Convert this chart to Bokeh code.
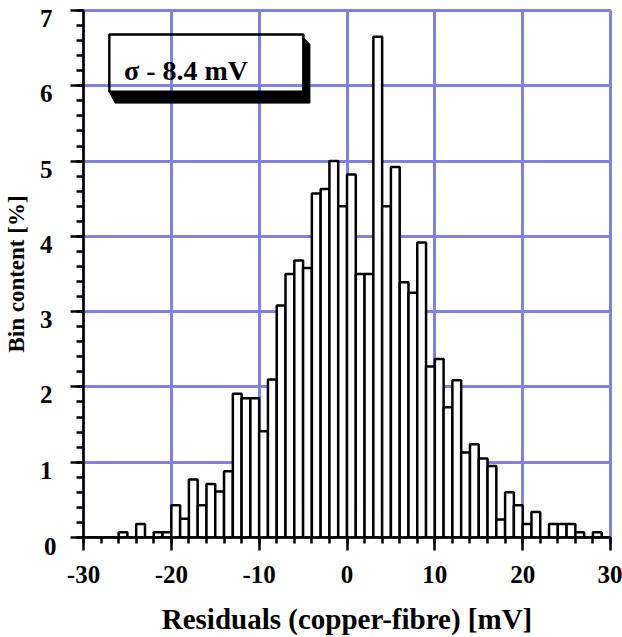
from bokeh.plotting import figure
from bokeh.models import (Range1d, FixedTicker, Label, BoxAnnotation, ColumnDataSource,
                          LinearAxis)
from bokeh.embed import file_html
from bokeh.resources import INLINE

# ---- data (bin content in %, 1 mV bins) ----
bin_left = list(range(-30, 30))
bin_width = 1.0
bin_content = [
    0.00, 0.00, 0.00, 0.00, 0.07, 0.00, 0.18, 0.00, 0.07, 0.07,   # -30 .. -21
    0.43, 0.25, 0.77, 0.43, 0.71, 0.61, 0.88, 1.91, 1.85, 1.85,   # -20 .. -11
    1.41, 2.10, 3.08, 3.50, 3.68, 3.58, 4.57, 4.63, 5.00, 4.40,   # -10 .. -1
    4.82, 3.50, 3.50, 6.65, 4.40, 4.92, 3.39, 3.25, 3.92, 2.27,   #   0 .. 9
    2.37, 1.73, 2.09, 1.13, 1.24, 1.05, 0.95, 0.24, 0.60, 0.43,   #  10 .. 19
    0.18, 0.34, 0.00, 0.18, 0.18, 0.18, 0.07, 0.00, 0.07, 0.00,   #  20 .. 29
]
x_ticks = [-30, -20, -10, 0, 10, 20, 30]
x_tick_labels = ["-30", "-20", "-10", "0", "10", "20", "30"]
y_ticks = [0, 1, 2, 3, 4, 5, 6, 7]
y_tick_labels = ["0", "1", "2", "3", "4", "5", "6", "7"]
sigma_text = "\u03c3 - 8.4 mV"
x_title = "Residuals (copper-fibre) [mV]"
y_title = "Bin content [%]"

GRID = "#8080E8"
FONT = "Liberation Serif"
LABEL_SHIFT = 0.106   # y tick labels sit ~8 px below their tick

src = ColumnDataSource(dict(
    left=bin_left,
    right=[b + bin_width for b in bin_left],
    top=bin_content,
))

p = figure(width=622, height=637, output_backend="svg", toolbar_location=None,
           x_range=Range1d(-30, 30), y_range=Range1d(0, 7),
           min_border_left=81, min_border_right=12, min_border_top=10,
           min_border_bottom=100)
p.background_fill_color = "white"
p.border_fill_color = "white"
p.outline_line_color = GRID
p.outline_line_width = 3
p.extra_y_ranges = {"lab": Range1d(LABEL_SHIFT, 7 + LABEL_SHIFT)}

# grid
p.xgrid.ticker = FixedTicker(ticks=x_ticks)
p.ygrid.ticker = FixedTicker(ticks=y_ticks)
for g in (p.xgrid, p.ygrid):
    g.grid_line_color = GRID
    g.grid_line_width = 3
    g.grid_line_alpha = 1.0

# axes
p.xaxis.ticker = FixedTicker(ticks=x_ticks, minor_ticks=list(range(-30, 31, 2)))
p.yaxis.ticker = FixedTicker(ticks=y_ticks, minor_ticks=[i / 5 for i in range(0, 36)])
p.xaxis.major_label_overrides = {t: s for t, s in zip(x_ticks, x_tick_labels)}
# main y axis: ticks, plus the "0" label (pushed below its tick by an empty first line)
p.yaxis.major_label_overrides = {t: ("\n" + s if t == 0 else "")
                                 for t, s in zip(y_ticks, y_tick_labels)}
for ax in (p.xaxis[0], p.yaxis[0]):
    ax.axis_line_color = "black"
    ax.axis_line_width = 2.5
    ax.major_tick_line_color = "black"
    ax.major_tick_line_width = 2.5
    ax.minor_tick_line_color = "black"
    ax.minor_tick_line_width = 2.5
    ax.major_tick_in = 0
    ax.minor_tick_in = 0
    ax.major_tick_out = 13
    ax.major_label_text_font = FONT
    ax.major_label_text_font_style = "bold"
    ax.major_label_text_font_size = "25px"
    ax.major_label_text_color = "black"
    ax.axis_label_text_font = FONT
    ax.axis_label_text_font_style = "bold"
    ax.axis_label_text_color = "black"

p.xaxis.minor_tick_out = 6
p.yaxis.minor_tick_out = 7
p.yaxis.major_label_standoff = 14
p.yaxis.major_label_text_line_height = 0.65
p.xaxis.major_label_standoff = 15
p.xaxis.axis_label = x_title
p.xaxis.axis_label_text_font_size = "29px"
p.xaxis.axis_label_standoff = 17

# label-only axis for the other y tick labels (shifted just below each tick)
ylab = LinearAxis(y_range_name="lab", ticker=FixedTicker(ticks=y_ticks),
                  axis_line_color=None, major_tick_line_color=None,
                  minor_tick_line_color=None, major_tick_out=0, major_tick_in=0,
                  minor_tick_out=0, minor_tick_in=0, major_label_standoff=-12,
                  major_label_overrides={t: ("" if t == 0 else s)
                                         for t, s in zip(y_ticks, y_tick_labels)},
                  major_label_text_font=FONT, major_label_text_font_style="bold",
                  major_label_text_font_size="25px", major_label_text_color="black",
                  axis_label=y_title, axis_label_text_font=FONT,
                  axis_label_text_font_style="bold", axis_label_text_font_size="23px",
                  axis_label_text_color="black", axis_label_standoff=8)
p.add_layout(ylab, "left")

# bars
p.quad(left="left", right="right", bottom=0, top="top", source=src,
       fill_color="white", line_color="black", line_width=2.5)

# sigma box with drop shadow
p.patch(x=[-4.97, -4.22, -4.22, -26.4, -27.06, -4.97],
        y=[6.64, 6.55, 5.77, 5.77, 5.92, 5.92],
        fill_color="black", line_color="black", line_width=1)
p.add_layout(BoxAnnotation(left=-27.06, right=-4.97, bottom=5.92, top=6.68,
                           fill_alpha=0, line_color="black", line_alpha=1.0,
                           line_width=2.5, level="overlay"))
p.add_layout(Label(x=-25.4, y=6.20, text=sigma_text, text_font=FONT,
                   text_font_style="bold", text_font_size="28px",
                   text_baseline="alphabetic", text_color="black"))

open("out.html", "w").write(file_html(p, INLINE))
